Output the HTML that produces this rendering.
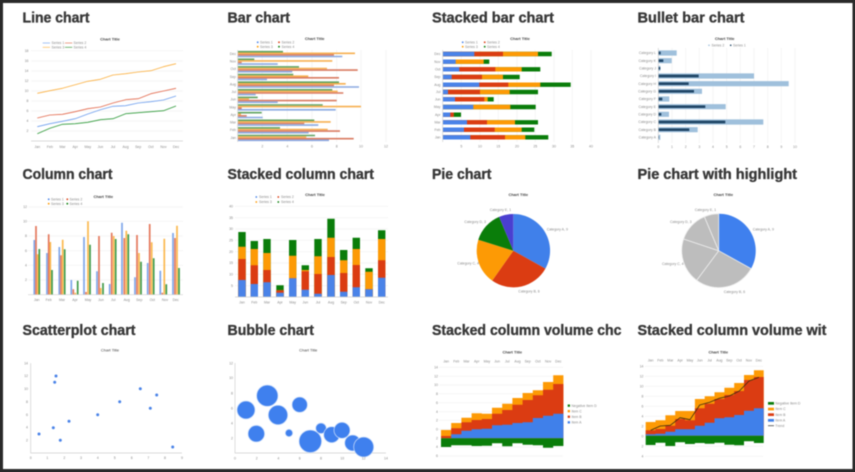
<!DOCTYPE html>
<html lang="en"><head><meta charset="utf-8"><title>Chart types</title>
<style>
html,body{margin:0;padding:0;background:#2a2a2a;width:855px;height:472px;overflow:hidden}
svg{position:absolute;left:0;top:0;display:block;filter:blur(.4px)}
text{font-family:"Liberation Sans",sans-serif}
.t{font-size:14.5px;font-weight:700;fill:#383838;stroke:#383838;stroke-width:.35px;lengthAdjust:spacingAndGlyphs}
.c{font-size:4px;font-weight:700;fill:#444;text-anchor:middle}
.s{font-size:3.5px;fill:#8a8a8a}
.m{font-size:3.5px;fill:#8a8a8a;text-anchor:middle}
.r{font-size:3.5px;fill:#8a8a8a;text-anchor:end}
.g{fill:none;stroke:#ececec;stroke-width:.5}
.a{fill:none;stroke:#cfcfcf;stroke-width:.7}
.l{fill:none;stroke-width:.8;stroke-linejoin:round}
</style></head><body>
<svg width="855" height="472" viewBox="0 0 855 472" xmlns="http://www.w3.org/2000/svg">
<rect x="3" y="3" width="849.500" height="466" fill="#fff"/>

<!-- Titles -->
<text class="t" x="22.500" y="22.500" textLength="67" lengthAdjust="spacingAndGlyphs">Line chart</text>
<text class="t" x="227.500" y="22.500" textLength="62.500" lengthAdjust="spacingAndGlyphs">Bar chart</text>
<text class="t" x="432" y="22.500" textLength="122" lengthAdjust="spacingAndGlyphs">Stacked bar chart</text>
<text class="t" x="637.500" y="22.500" textLength="107" lengthAdjust="spacingAndGlyphs">Bullet bar chart</text>
<text class="t" x="22.500" y="179" textLength="90" lengthAdjust="spacingAndGlyphs">Column chart</text>
<text class="t" x="227.500" y="179" textLength="146.500" lengthAdjust="spacingAndGlyphs">Stacked column chart</text>
<text class="t" x="432" y="179" textLength="59.500" lengthAdjust="spacingAndGlyphs">Pie chart</text>
<text class="t" x="637.500" y="179" textLength="159.500" lengthAdjust="spacingAndGlyphs">Pie chart with highlight</text>
<text class="t" x="22.500" y="335" textLength="113" lengthAdjust="spacingAndGlyphs">Scatterplot chart</text>
<text class="t" x="227.500" y="335" textLength="86.500" lengthAdjust="spacingAndGlyphs">Bubble chart</text>
<text class="t" x="432" y="335" textLength="189.500" lengthAdjust="spacingAndGlyphs">Stacked column volume chc</text>
<text class="t" x="637.500" y="335" textLength="189" lengthAdjust="spacingAndGlyphs">Stacked column volume wit</text>

<!-- Line chart -->
<text class="c" x="110" y="40.500">Chart Title</text>
<path class="g" d="M31 50.700H183M31 61H183M31 71H183M31 81H183M31 91H183M31 101H183M31 111H183M31 121H183M31 131H183"/>
<path class="a" d="M31 141H183"/>
<path class="l" stroke="#8fb4f0" d="M42.700 43H50"/><path class="l" stroke="#e58a70" d="M65 43H72.300"/>
<path class="l" stroke="#fcc069" d="M42.700 47.300H50"/><path class="l" stroke="#58a858" d="M65 47.300H72.300"/>
<text class="s" x="51.500" y="44.200">Series 1</text><text class="s" x="73.500" y="44.200">Series 2</text>
<text class="s" x="51.500" y="48.500">Series 3</text><text class="s" x="73.500" y="48.500">Series 4</text>
<polyline class="l" stroke="#fbb040" points="37.300,93.300 49.900,90.700 62.500,88.300 75.200,84.700 87.800,81.300 100.400,79.300 113,75 125.600,73.700 138.200,72 150.900,70.700 163.500,66.700 176,63.700"/>
<polyline class="l" stroke="#e2674a" points="37.300,118 49.900,115 62.500,114.300 75.200,111.700 87.800,108.700 100.400,107 113,103 125.600,99.700 138.200,98.700 150.900,93.700 163.500,91 176,88.300"/>
<polyline class="l" stroke="#6d9eee" points="37.300,126.700 49.900,123.700 62.500,121.300 75.200,118.700 87.800,114 100.400,109.700 113,106.300 125.600,105.700 138.200,103 150.900,101.700 163.500,100 176,96"/>
<polyline class="l" stroke="#2f9a3a" points="37.300,133.700 49.900,128.300 62.500,124.300 75.200,123.700 87.800,122.300 100.400,119.700 113,118.700 125.600,113.700 138.200,112.700 150.900,111.700 163.500,110.700 176,106"/>
<g class="r"><text class="r" x="28.500" y="52">18</text><text class="r" x="28.500" y="62">16</text><text class="r" x="28.500" y="72">14</text><text class="r" x="28.500" y="82">12</text><text class="r" x="28.500" y="92">10</text><text class="r" x="28.500" y="102">8</text><text class="r" x="28.500" y="112">6</text><text class="r" x="28.500" y="122">4</text><text class="r" x="28.500" y="132">2</text></g>
<text class="m" x="37.300" y="148">Jan</text><text class="m" x="49.900" y="148">Feb</text><text class="m" x="62.500" y="148">Mar</text><text class="m" x="75.200" y="148">Apr</text><text class="m" x="87.800" y="148">May</text><text class="m" x="100.400" y="148">Jun</text><text class="m" x="113" y="148">Jul</text><text class="m" x="125.600" y="148">Aug</text><text class="m" x="138.200" y="148">Sep</text><text class="m" x="150.900" y="148">Oct</text><text class="m" x="163.500" y="148">Nov</text><text class="m" x="176" y="148">Dec</text>

<!-- Bar chart -->
<text class="c" x="314.700" y="40">Chart Title</text>
<path class="g" d="M262.300 50V142M287.300 50V142M312 50V142M336.700 50V142M361 50V142M386 50V142"/>
<circle cx="257.700" cy="42.300" r=".9" fill="#4a83e8"/><circle cx="279" cy="42.300" r=".9" fill="#db3c12"/><circle cx="257.700" cy="46.700" r=".9" fill="#fd9a05"/><circle cx="279" cy="46.700" r=".9" fill="#0a7d0a"/>
<text class="s" x="260" y="43.500">Series 1</text><text class="s" x="281.500" y="43.500">Series 2</text><text class="s" x="260" y="47.900">Series 3</text><text class="s" x="281.500" y="47.900">Series 4</text>
<path fill="none" stroke="#5fa25f" stroke-width="1.6" d="M237.700 51.700H283M237.700 59.300H254.300M237.700 66.900H299M237.700 74.600H293.300M237.700 82.200H339M237.700 89.800H332.300M237.700 97.400H257.700M237.700 105H322.700M237.700 112.700H261.700M237.700 120.300H314.300M237.700 127.900H280M237.700 135.500H315"/>
<path fill="none" stroke="#f7b050" stroke-width="1.6" d="M237.700 53.300H355M237.700 60.900H332.300M237.700 68.500H327M237.700 76.200H308.300M237.700 83.800H345.700M237.700 91.400H337.700M237.700 99H249M237.700 106.600H361M237.700 114.300H241M237.700 121.900H330.700M237.700 129.500H327.700M237.700 137.100H306.300"/>
<path fill="none" stroke="#d97a60" stroke-width="1.6" d="M237.700 54.900H334M237.700 62.500H241.700M237.700 70.100H357.700M237.700 77.800H339M237.700 85.400H334M237.700 93H343.300M237.700 100.600H336.700M237.700 108.200H241.700M237.700 115.900H246.700M237.700 123.500H304.300M237.700 131.100H340M237.700 138.700H353.700"/>
<path fill="none" stroke="#8aa9e2" stroke-width="1.600" d="M237.700 56.500H342.300M237.700 64.100H277.700M237.700 71.700H292.300M237.700 79.400H267M237.700 87H359M237.700 94.600H255.700M237.700 102.200H277.700M237.700 109.800H335.700M237.700 117.500H262.700M237.700 125.100H318.300M237.700 132.700H308.700M237.700 140.300H329"/>
<path class="a" d="M237.700 50V142"/>
<text class="r" x="236" y="55">Dec</text><text class="r" x="236" y="62.600">Nov</text><text class="r" x="236" y="70.200">Oct</text><text class="r" x="236" y="77.900">Sep</text><text class="r" x="236" y="85.500">Aug</text><text class="r" x="236" y="93">Jul</text><text class="r" x="236" y="100.700">Jun</text><text class="r" x="236" y="108.300">May</text><text class="r" x="236" y="116">Apr</text><text class="r" x="236" y="123.600">Mar</text><text class="r" x="236" y="131.200">Feb</text><text class="r" x="236" y="138.800">Jan</text>
<text class="m" x="262.300" y="147.500">2</text><text class="m" x="287.300" y="147.500">4</text><text class="m" x="312" y="147.500">6</text><text class="m" x="336.700" y="147.500">8</text><text class="m" x="361" y="147.500">10</text><text class="m" x="386" y="147.500">12</text>

<!-- Stacked bar chart -->
<text class="c" x="520" y="40">Chart Title</text>
<path class="g" d="M461.300 50V142M480 50V142M498.300 50V142M517 50V142M535.300 50V142M554 50V142M572.300 50V142M591 50V142"/>
<circle cx="462.700" cy="42.300" r=".9" fill="#4a83e8"/><circle cx="484.700" cy="42.300" r=".9" fill="#db3c12"/><circle cx="462.700" cy="46.700" r=".9" fill="#fd9a05"/><circle cx="484.700" cy="46.700" r=".9" fill="#0a7d0a"/>
<text class="s" x="465" y="43.500">Series 1</text><text class="s" x="487" y="43.500">Series 2</text><text class="s" x="465" y="47.900">Series 3</text><text class="s" x="487" y="47.900">Series 4</text>
<path fill="none" stroke="#0a7d0a" stroke-width="4.400" d="M442.700 54H551.700M442.700 61.700H489.300M442.700 69.300H540.300M442.700 77H519.700M442.700 84.700H570.700M442.700 92H538M442.700 99.300H493.700M442.700 107H535.700M442.700 114.700H461M442.700 122.300H538M442.700 129.700H534.300M442.700 137.300H548.300"/>
<path fill="none" stroke="#fd9a05" stroke-width="4.400" d="M442.700 54H538M442.700 61.700H483.700M442.700 69.300H521.700M442.700 77H503M442.700 84.700H540.300M442.700 92H509.700M442.700 99.300H487.700M442.700 107H510.300M442.700 114.700H453.700M442.700 122.300H515M442.700 129.700H521.700M442.700 137.300H525.300"/>
<path fill="none" stroke="#db3c12" stroke-width="4.400" d="M442.700 54H503M442.700 69.300H495.300M442.700 77H482M442.700 84.700H508.300M442.700 92H480M442.700 99.300H484.300M442.700 114.700H453.700M442.700 122.300H487M442.700 129.700H494.700M442.700 137.300H505"/>
<path fill="none" stroke="#4a83e8" stroke-width="4.400" d="M442.700 54H474.300M442.700 61.700H455.700M442.700 69.300H459.300M442.700 77H451.700M442.700 84.700H479.300M442.700 92H448M442.700 99.300H455M442.700 107H473.300M442.700 114.700H450.300M442.700 122.300H467M442.700 129.700H464M442.700 137.300H470.300"/>
<path class="a" d="M442.700 50V142"/>
<text class="r" x="440.500" y="55.200">Dec</text><text class="r" x="440.500" y="62.900">Nov</text><text class="r" x="440.500" y="70.500">Oct</text><text class="r" x="440.500" y="78.200">Sep</text><text class="r" x="440.500" y="85.900">Aug</text><text class="r" x="440.500" y="93.200">Jul</text><text class="r" x="440.500" y="100.500">Jun</text><text class="r" x="440.500" y="108.200">May</text><text class="r" x="440.500" y="115.900">Apr</text><text class="r" x="440.500" y="123.500">Mar</text><text class="r" x="440.500" y="130.900">Feb</text><text class="r" x="440.500" y="138.500">Jan</text>
<text class="m" x="461.300" y="147.500">5</text><text class="m" x="480" y="147.500">10</text><text class="m" x="498.300" y="147.500">15</text><text class="m" x="517" y="147.500">20</text><text class="m" x="535.300" y="147.500">25</text><text class="m" x="554" y="147.500">30</text><text class="m" x="572.300" y="147.500">35</text><text class="m" x="591" y="147.500">40</text>

<!-- Bullet bar chart -->
<text class="c" x="724.700" y="40">Chart Title</text>
<rect x="708.300" y="44.600" width="1.400" height="1.400" fill="#9fc0dc"/><rect x="730" y="44.600" width="1.400" height="1.400" fill="#1f4566"/>
<text class="s" x="711.500" y="46.500">Series 2</text><text class="s" x="733" y="46.500">Series 1</text>
<path class="g" d="M672 48V143M685.700 48V143M699.300 48V143M713 48V143M726.700 48V143M740.300 48V143M754 48V143M767.700 48V143M781.300 48V143M795 48V143"/>
<path fill="none" stroke="#9fc0dc" stroke-width="5.200" d="M658.300 53H676.700M658.300 60.700H671.700M658.300 68.300H660.300M658.300 76H754M658.300 83.700H788.700M658.300 91.300H702M658.300 99H669.300M658.300 106.700H725.700M658.300 114.300H669M658.300 122H763.300M658.300 129.700H697.700M658.300 137.300H660.300"/>
<path fill="none" stroke="#1f4566" stroke-width="2.700" d="M658.300 53H660.700M658.300 60.700H663.300M658.300 68.300H660.300M658.300 76H698.700M658.300 83.700H688.700M658.300 91.300H694M658.300 99H662.300M658.300 106.700H705.300M658.300 114.300H661.300M658.300 122H725.300M658.300 129.700H689.300M658.300 137.300H659"/>
<path class="a" d="M658.300 48V143"/>
<text class="r" x="656" y="54.200">Category L</text><text class="r" x="656" y="61.900">Category K</text><text class="r" x="656" y="69.500">Category J</text><text class="r" x="656" y="77.200">Category I</text><text class="r" x="656" y="84.900">Category H</text><text class="r" x="656" y="92.500">Category G</text><text class="r" x="656" y="100.200">Category F</text><text class="r" x="656" y="107.900">Category E</text><text class="r" x="656" y="115.500">Category D</text><text class="r" x="656" y="123.200">Category C</text><text class="r" x="656" y="130.900">Category B</text><text class="r" x="656" y="138.500">Category A</text>
<text class="m" x="658.300" y="147.800">0</text><text class="m" x="672" y="147.800">1</text><text class="m" x="685.700" y="147.800">2</text><text class="m" x="699.300" y="147.800">3</text><text class="m" x="713" y="147.800">4</text><text class="m" x="726.700" y="147.800">5</text><text class="m" x="740.300" y="147.800">6</text><text class="m" x="754" y="147.800">7</text><text class="m" x="767.700" y="147.800">8</text><text class="m" x="781.300" y="147.800">9</text><text class="m" x="795" y="147.800">10</text>

<!-- Column chart -->
<text class="c" x="103.300" y="198">Chart Title</text>
<circle cx="48.700" cy="199.300" r=".9" fill="#4a83e8"/><circle cx="67.300" cy="199.300" r=".9" fill="#db3c12"/><circle cx="48.700" cy="203.700" r=".9" fill="#fd9a05"/><circle cx="67.300" cy="203.700" r=".9" fill="#0a7d0a"/>
<text class="s" x="51" y="200.500">Series 1</text><text class="s" x="69.500" y="200.500">Series 2</text><text class="s" x="51" y="204.900">Series 3</text><text class="s" x="69.500" y="204.900">Series 4</text>
<path class="g" d="M28 207H183M28 221.300H183M28 236H183M28 250.700H183M28 265.300H183M28 280H183"/>
<path fill="none" stroke="#7ea6ea" stroke-width="1.700" d="M34.300 294.700V240M47 294.700V253M59.300 294.700V247M71.300 294.700V280M84 294.700V237M97 294.700V271.300M109.700 294.700V284M122 294.700V222.700M135 294.700V277.300M147.700 294.700V263M160.300 294.700V270.700M173 294.700V233"/>
<path fill="none" stroke="#e4785c" stroke-width="1.700" d="M36 294.700V226M48.700 294.700V234.300M61 294.700V255.300M73.300 294.700V289.300M86 294.700V292M99 294.700V236M111.700 294.700V232.700M124.300 294.700V238M137 294.700V235M149.700 294.700V224M162.300 294.700V292.700M175 294.700V238"/>
<path fill="none" stroke="#fbb84e" stroke-width="1.700" d="M37.700 294.700V254.300M50.300 294.700V242M62.700 294.700V239.700M75.300 294.700V292.700M88 294.700V221.300M100.700 294.700V288M113.700 294.700V236M126.300 294.700V230.700M139 294.700V253M151.700 294.700V242.300M164.300 294.700V238.700M177 294.700V225.700"/>
<path fill="none" stroke="#3f9a48" stroke-width="1.700" d="M39.300 294.700V249M52 294.700V270M64.700 294.700V249.300M77.700 294.700V280.700M90 294.700V244.700M103 294.700V283M115.700 294.700V239M128.300 294.700V234.300M141 294.700V261.700M153.700 294.700V258.300M166.300 294.700V284.300M179 294.700V268"/>
<path class="a" d="M28 294.700H183"/>
<text class="r" x="27" y="208">12</text><text class="r" x="27" y="222.500">10</text><text class="r" x="27" y="237">8</text><text class="r" x="27" y="252">6</text><text class="r" x="27" y="266.500">4</text><text class="r" x="27" y="281">2</text>
<text class="m" x="36.700" y="301">Jan</text><text class="m" x="48.700" y="301">Feb</text><text class="m" x="62" y="301">Mar</text><text class="m" x="75" y="301">Apr</text><text class="m" x="88" y="301">May</text><text class="m" x="101" y="301">Jun</text><text class="m" x="113.300" y="301">Jul</text><text class="m" x="126.700" y="301">Aug</text><text class="m" x="139.300" y="301">Sep</text><text class="m" x="152.300" y="301">Oct</text><text class="m" x="165" y="301">Nov</text><text class="m" x="175.700" y="301">Dec</text>

<!-- Stacked column chart -->
<text class="c" x="315" y="196">Chart Title</text>
<circle cx="256.300" cy="197" r=".9" fill="#4a83e8"/><circle cx="278.300" cy="197" r=".9" fill="#db3c12"/><circle cx="256.300" cy="202" r=".9" fill="#fd9a05"/><circle cx="278.300" cy="202" r=".9" fill="#0a7d0a"/>
<text class="s" x="259" y="198.200">Series 1</text><text class="s" x="281" y="198.200">Series 2</text><text class="s" x="259" y="203.200">Series 3</text><text class="s" x="281" y="203.200">Series 4</text>
<path class="g" d="M235 206.300H388M235 217.700H388M235 229H388M235 240.300H388M235 251.700H388M235 263H388M235 274.300H388M235 285.700H388"/>
<path fill="none" stroke="#0a7d0a" stroke-width="7.400" d="M242 297V232M254.300 297V241M267 297V239M280 297V285.300M292.700 297V240M305.300 297V265.300M318 297V239M331 297V218.700M343.700 297V250M356.300 297V237.700M369 297V268.300M381.700 297V230.300"/>
<path fill="none" stroke="#fd9a05" stroke-width="7.400" d="M242 297V246.700M254.300 297V249M267 297V253M280 297V290.300M292.700 297V255.700M305.300 297V270M318 297V256.300M331 297V237.700M343.700 297V260.300M356.300 297V249M369 297V271.700M381.700 297V239"/>
<path fill="none" stroke="#db3c12" stroke-width="7.400" d="M242 297V259M254.300 297V265.300M267 297V270M280 297V290.300M292.700 297V278.300M305.300 297V271.300M318 297V274M331 297V257M343.700 297V273M356.300 297V265M369 297V289.300M381.700 297V260.300"/>
<path fill="none" stroke="#4a83e8" stroke-width="7.400" d="M242 297V280M254.300 297V284M267 297V282.300M280 297V292.700M292.700 297V278.300M305.300 297V289.700M318 297V293.700M331 297V275M343.700 297V291.700M356.300 297V287.300M369 297V289.300M381.700 297V277.700"/>
<path class="a" d="M235 297H388"/>
<text class="r" x="233" y="207.500">40</text><text class="r" x="233" y="219">35</text><text class="r" x="233" y="230.200">30</text><text class="r" x="233" y="241.500">25</text><text class="r" x="233" y="253">20</text><text class="r" x="233" y="264.200">15</text><text class="r" x="233" y="275.500">10</text><text class="r" x="233" y="287">5</text>
<text class="m" x="242" y="303.500">Jan</text><text class="m" x="254.300" y="303.500">Feb</text><text class="m" x="267" y="303.500">Mar</text><text class="m" x="280" y="303.500">Apr</text><text class="m" x="292.700" y="303.500">May</text><text class="m" x="305.300" y="303.500">Jun</text><text class="m" x="318" y="303.500">Jul</text><text class="m" x="331" y="303.500">Aug</text><text class="m" x="343.700" y="303.500">Sep</text><text class="m" x="356.300" y="303.500">Oct</text><text class="m" x="369" y="303.500">Nov</text><text class="m" x="381.700" y="303.500">Dec</text>

<!-- Pie chart -->
<text class="c" x="518.300" y="196">Chart Title</text>
<path fill="#4080ea" d="M513.300 250.700V214A36.700 36.700 0 0 1 545.400 268.600Z"/>
<path fill="#db3c12" d="M513.300 250.700L545.400 268.600A36.700 36.700 0 0 1 492.200 280.600Z"/>
<path fill="#fd9a05" d="M513.300 250.700L492.200 280.600A36.700 36.700 0 0 1 478.300 239.800Z"/>
<path fill="#0a7d0a" d="M513.300 250.700L478.300 239.800A36.700 36.700 0 0 1 499.100 216.900Z"/>
<path fill="#4a3fd0" d="M513.300 250.700L499.100 216.900A36.700 36.700 0 0 1 513.300 214Z"/>
<text class="s" x="546.700" y="230.500">Category A, 9</text><text class="s" x="518.300" y="292.500">Category B, 6</text><text class="s" x="457.300" y="264.700">Category C, 4</text><text class="s" x="464.300" y="223">Category D, 3</text><text class="s" x="489.700" y="211">Category E, 1</text>

<!-- Pie with highlight -->
<text class="c" x="723.300" y="196">Chart Title</text>
<path fill="#3f80ee" d="M718.700 250.700V213.700A37 37 0 0 1 751.100 268.600Z"/>
<g fill="#bdbdbd" stroke="#eee" stroke-width=".8">
<path d="M718.700 250.700L751.100 268.600A37 37 0 0 1 696.700 280.300Z"/>
<path d="M718.700 250.700L696.700 280.300A37 37 0 0 1 683.600 239Z"/>
<path d="M718.700 250.700L683.600 239A37 37 0 0 1 704.400 216.700Z"/>
<path d="M718.700 250.700L704.400 216.700A37 37 0 0 1 718.700 213.700Z"/>
</g>
<text class="s" x="752.700" y="230.500">Category A, 9</text><text class="s" x="723.700" y="293">Category B, 6</text><text class="s" x="662" y="265.200">Category C, 4</text><text class="s" x="670" y="223">Category D, 3</text><text class="s" x="694.700" y="211">Category E, 1</text>

<!-- Scatterplot -->
<text class="c" x="110" y="351.500" style="font-weight:400">Chart Title</text>
<path class="a" d="M30.700 363.300V453H182"/>
<g fill="#4a83e8">
<circle cx="39" cy="434" r="1.500"/><circle cx="53.300" cy="427.700" r="1.500"/><circle cx="54.700" cy="382.300" r="1.500"/><circle cx="56" cy="376" r="1.500"/><circle cx="60.300" cy="440.300" r="1.500"/><circle cx="69" cy="421.300" r="1.500"/><circle cx="97.700" cy="414.700" r="1.500"/><circle cx="119.700" cy="401.700" r="1.500"/><circle cx="140.300" cy="388.700" r="1.500"/><circle cx="150.300" cy="408.300" r="1.500"/><circle cx="156.700" cy="395" r="1.500"/><circle cx="172.700" cy="447" r="1.500"/>
</g>
<text class="r" x="28" y="364.500">14</text><text class="r" x="28" y="377">12</text><text class="r" x="28" y="390">10</text><text class="r" x="28" y="403">8</text><text class="r" x="28" y="416">6</text><text class="r" x="28" y="428.500">4</text><text class="r" x="28" y="441.500">2</text>
<text class="m" x="30.700" y="459">0</text><text class="m" x="47.300" y="459">1</text><text class="m" x="64.300" y="459">2</text><text class="m" x="81" y="459">3</text><text class="m" x="97.700" y="459">4</text><text class="m" x="114.700" y="459">5</text><text class="m" x="131.700" y="459">6</text><text class="m" x="148.300" y="459">7</text><text class="m" x="165" y="459">8</text><text class="m" x="182" y="459">9</text>

<!-- Bubble chart -->
<text class="c" x="308.300" y="351.500" style="font-weight:400">Chart Title</text>
<path class="a" d="M235 363V453H386"/>
<g fill="#3f80ee" stroke="#cfe0fb" stroke-width=".7">
<circle cx="246" cy="410" r="9"/><circle cx="256.300" cy="433.700" r="8.300"/><circle cx="267.300" cy="395.700" r="10.700"/><circle cx="278" cy="415" r="9.700"/><circle cx="289" cy="433" r="3.700"/><circle cx="299.700" cy="404.700" r="7.700"/><circle cx="310.300" cy="441.300" r="11.300"/><circle cx="321" cy="428.300" r="5.300"/><circle cx="331.700" cy="434.700" r="8"/><circle cx="342" cy="430.300" r="8"/><circle cx="352.700" cy="443" r="8"/><circle cx="363.700" cy="447" r="10"/>
</g>
<text class="r" x="233" y="364.500">12</text><text class="r" x="233" y="379">10</text><text class="r" x="233" y="394.500">8</text><text class="r" x="233" y="409.500">6</text><text class="r" x="233" y="424.500">4</text><text class="r" x="233" y="439.500">2</text>
<text class="m" x="235" y="459.500">0</text><text class="m" x="256.700" y="459.500">2</text><text class="m" x="278.300" y="459.500">4</text><text class="m" x="299.700" y="459.500">6</text><text class="m" x="321" y="459.500">8</text><text class="m" x="342.300" y="459.500">10</text><text class="m" x="363.700" y="459.500">12</text><text class="m" x="386" y="459.500">14</text>

<!-- Stacked column volume -->
<text class="c" x="512.300" y="353.500">Chart Title</text>
<path class="g" d="M439 367.300H563M439 376.300H563M439 385H563M439 393.700H563M439 402.700H563M439 411.700H563M439 420.300H563M439 429.300H563M439 447H563M439 456H563"/>
<path fill="#fd9a05" d="M441 438.300V430H451.200V423H461.400V417.700H471.600V413.300H481.800V413.700H492V407.700H502.200V403.700H512.400V398H522.600V393H532.800V390.300H543V382H553.200V375.300H563.400V438.300Z"/>
<path fill="#db3c12" d="M441 438.300V436H451.200V428.300H461.400V422.300H471.600V420H481.800V419H492V413.700H502.200V410H512.400V404.700H522.600V400H532.800V395.300H543V389.700H553.200V384H563.400V438.300Z"/>
<path fill="#4080ea" d="M441 438.300H451.200V434.300H461.400V430.700H471.600V429.300H481.800V428.700H492V425.300H502.200V424.700H512.400V423H522.600V422.300H532.800V418H543V415.700H553.200V413.700H563.400V438.300Z"/>
<path fill="#0a7d0a" d="M441 438.300V447H451.200V445.300H461.400V445.300H471.600V446H481.800V445.700H492V443.300H502.200V446.300H512.400V443.300H522.600V444.700H532.800V445.300H543V447.700H553.200V446H563.400V438.300Z"/>
<text class="m" x="446.100" y="362.500">Jan</text><text class="m" x="456.300" y="362.500">Feb</text><text class="m" x="466.500" y="362.500">Mar</text><text class="m" x="476.700" y="362.500">Apr</text><text class="m" x="486.900" y="362.500">May</text><text class="m" x="497.100" y="362.500">Jun</text><text class="m" x="507.300" y="362.500">Jul</text><text class="m" x="517.500" y="362.500">Aug</text><text class="m" x="527.700" y="362.500">Sep</text><text class="m" x="537.900" y="362.500">Oct</text><text class="m" x="548.100" y="362.500">Nov</text><text class="m" x="558.300" y="362.500">Dec</text>
<text class="r" x="438" y="368.500">14</text><text class="r" x="438" y="377.500">12</text><text class="r" x="438" y="386.200">10</text><text class="r" x="438" y="394.900">8</text><text class="r" x="438" y="403.900">6</text><text class="r" x="438" y="412.900">4</text><text class="r" x="438" y="421.500">2</text><text class="r" x="438" y="430.500">0</text><text class="r" x="438" y="439.500">2</text><text class="r" x="438" y="448.200">4</text><text class="r" x="438" y="457.200">6</text>
<rect x="567.700" y="404.500" width="2.300" height="2.300" fill="#0a7d0a"/><rect x="567.700" y="410" width="2.300" height="2.300" fill="#fd9a05"/><rect x="567.700" y="415.600" width="2.300" height="2.300" fill="#db3c12"/><rect x="567.700" y="421.200" width="2.300" height="2.300" fill="#4080ea"/>
<text class="s" x="571.500" y="406.900">Negative Item D</text><text class="s" x="571.500" y="412.400">Item C</text><text class="s" x="571.500" y="418">Item B</text><text class="s" x="571.500" y="423.600">Item A</text>

<!-- Stacked column volume with line -->
<text class="c" x="718.300" y="353.500">Chart Title</text>
<path class="g" d="M645 366.300H763M645 376.300H763M645 386.300H763M645 396.300H763M645 406.300H763M645 416.300H763M645 426.300H763M645 446.300H763M645 456.300H763"/>
<path fill="#fd9a05" d="M645.700 435.700V422H655.500V420.300H665.400V415.300H675.200V411H685V411H694.900V399H704.700V396.300H714.500V392.300H724.400V387.700H734.200V383H744V375H753.900V370.300H763.700V435.700Z"/>
<path fill="#db3c12" d="M645.700 435.700V430.300H655.500V429H665.400V425.700H675.200V419H685V420.300H694.900V408.300H704.700V403.700H714.500V399H724.400V395H734.200V391H744V380H753.900V377H763.700V435.700Z"/>
<path fill="#4080ea" d="M645.700 435.700V434.300H655.500V433.700H665.400V431.700H675.200V429.300H685V429.300H694.900V425.700H704.700V422.700H714.500V418.300H724.400V417.300H734.200V415H744V410.700H753.900V408.300H763.700V435.700Z"/>
<path fill="#0a7d0a" d="M645.700 435.700V445H655.500V442.700H665.400V446H675.200V442.300H685V444H694.900V443H704.700V443.700H714.500V442.700H724.400V444.700H734.200V445.300H744V441.300H753.900V443H763.700V435.700Z"/>
<polyline fill="none" stroke="#3a2a10" stroke-width=".8" stroke-linejoin="round" points="650.700,430.300 660.300,426 670.300,425.300 680,417.700 690,419.700 699.700,405 709.700,402.300 719.300,398.300 729.300,396 739.300,391 749,381 759,377.300"/>
<text class="m" x="650.600" y="361.500">Jan</text><text class="m" x="660.400" y="361.500">Feb</text><text class="m" x="670.300" y="361.500">Mar</text><text class="m" x="680.100" y="361.500">Apr</text><text class="m" x="689.900" y="361.500">May</text><text class="m" x="699.800" y="361.500">Jun</text><text class="m" x="709.600" y="361.500">Jul</text><text class="m" x="719.400" y="361.500">Aug</text><text class="m" x="729.300" y="361.500">Sep</text><text class="m" x="739.100" y="361.500">Oct</text><text class="m" x="748.900" y="361.500">Nov</text><text class="m" x="758.800" y="361.500">Dec</text>
<text class="r" x="643.500" y="367.500">14</text><text class="r" x="643.500" y="377.500">12</text><text class="r" x="643.500" y="387.500">10</text><text class="r" x="643.500" y="397.500">8</text><text class="r" x="643.500" y="407.500">6</text><text class="r" x="643.500" y="417.500">4</text><text class="r" x="643.500" y="427.500">2</text><text class="r" x="643.500" y="437.500">0</text><text class="r" x="643.500" y="447.500">2</text><text class="r" x="643.500" y="457.500">4</text>
<rect x="768" y="402" width="6" height="2.700" fill="#0a7d0a"/><rect x="768" y="407.700" width="6" height="2.700" fill="#fd9a05"/><rect x="768" y="413.300" width="6" height="2.700" fill="#db3c12"/><rect x="768" y="419" width="6" height="2.700" fill="#4080ea"/><path d="M768 425.700H774" stroke="#444" stroke-width=".8"/>
<text class="s" x="775.300" y="404.500">Negative Item D</text><text class="s" x="775.300" y="410.200">Item C</text><text class="s" x="775.300" y="415.900">Item B</text><text class="s" x="775.300" y="421.500">Item A</text><text class="s" x="775.300" y="426.900">Trend</text>
</svg>
</body></html>
